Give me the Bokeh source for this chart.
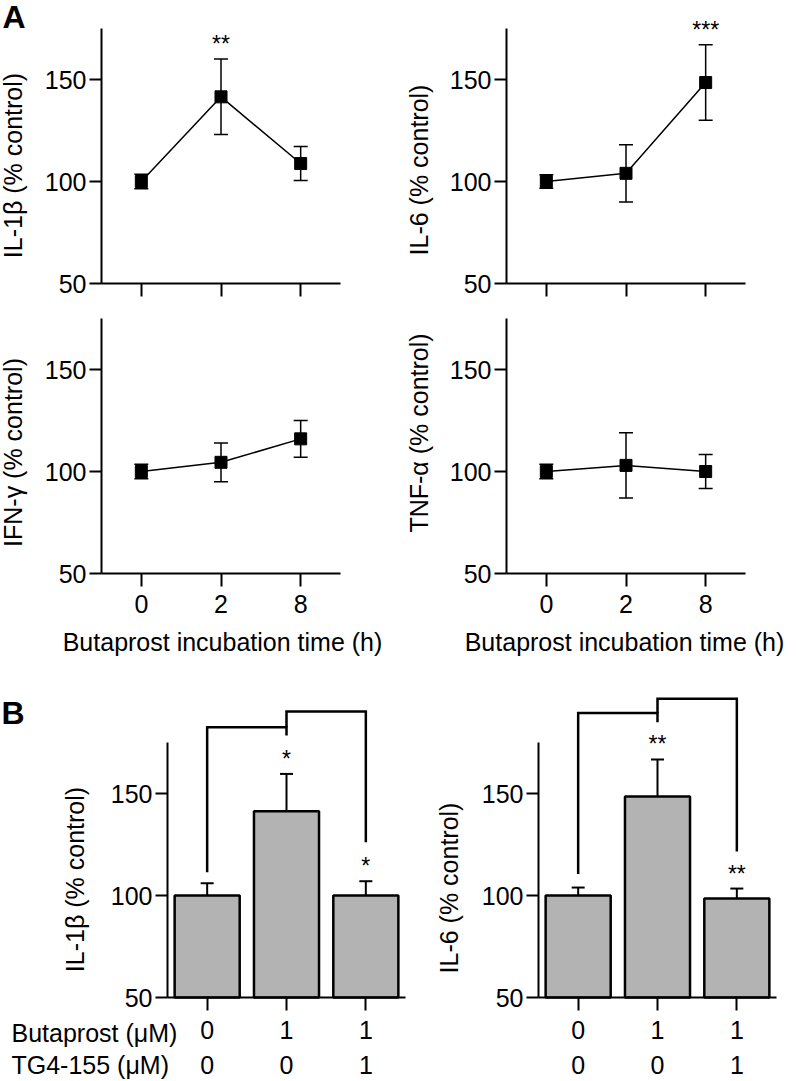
import math
from bokeh.plotting import figure
from bokeh.models import (Range1d, FixedTicker, Whisker, TeeHead, LinearAxis,
                          ColumnDataSource, Label, LabelSet, Grid)
from bokeh.layouts import column, row
from bokeh.embed import file_html
from bokeh.resources import INLINE
from bokeh.core.properties import value

# ---------------- data ----------------
TIME_H = ["0", "2", "8"]

IL1B_TIME_MEAN = [100.0, 141.5, 108.8]
IL1B_TIME_SEM = [3.5, 18.5, 8.3]
IL1B_TIME_SIG = ["", "**", ""]

IL6_TIME_MEAN = [100.0, 104.0, 148.5]
IL6_TIME_SEM = [3.3, 14.0, 18.5]
IL6_TIME_SIG = ["", "", "***"]

IFNG_TIME_MEAN = [100.0, 104.5, 116.0]
IFNG_TIME_SEM = [3.5, 9.5, 9.0]
IFNG_TIME_SIG = ["", "", ""]

TNFA_TIME_MEAN = [100.0, 103.0, 100.0]
TNFA_TIME_SEM = [3.5, 16.0, 8.3]
TNFA_TIME_SIG = ["", "", ""]

BUTAPROST_UM = [0, 1, 1]
TG4155_UM = [0, 0, 1]

IL1B_BAR_MEAN = [100.0, 141.3, 100.0]
IL1B_BAR_SEM = [6.0, 18.3, 7.0]
IL1B_BAR_SIG = ["", "*", "*"]
# (from group, to group, left-leg bottom, bracket level, right-leg bottom)
IL1B_BRACKETS = [(0, 1, 111.4, 182.5, 178.4), (1, 2, 182.5, 190.2, 126.1)]

IL6_BAR_MEAN = [100.0, 148.5, 98.5]
IL6_BAR_SEM = [3.9, 18.2, 4.9]
IL6_BAR_SIG = ["", "**", "**"]
IL6_BRACKETS = [(0, 1, 110.6, 189.5, 184.9), (1, 2, 189.5, 196.4, 121.6)]

Y_TICKS = [50, 100, 150]
Y_MIN = 50
Y_AXIS_MAX = 175

# ---------------- style / layout ----------------
FONT = "Liberation Sans"
FS = "25px"
STAR_FS = "23px"
STAR_PX = 15.0          # star anchor above the error-bar top (px)
BAR_FILL = "#b3b3b3"
PPU = 2.04              # px per y unit


class Panel:
    """A figure whose frame fills its whole canvas; axes are placed with fixed_location."""

    def __init__(self, left, top, right, bottom, axis_x, base_y, ppx, n_groups):
        self.left, self.top, self.right, self.bottom = left, top, right, bottom
        self.axis_x, self.base_y, self.ppx = axis_x, base_y, ppx
        p = figure(width=right - left, height=bottom - top,
                   x_range=Range1d(self.X(left), self.X(right)),
                   y_range=Range1d(self.Y(bottom), self.Y(top)),
                   x_axis_location=None, y_axis_location=None,
                   min_border=0, title=None,
                   output_backend="svg", toolbar_location=None, tools="")
        p.outline_line_color = None
        p.background_fill_color = "white"
        p.border_fill_color = "white"
        for g in p.select(type=Grid):
            g.visible = False
            g.grid_line_color = None
        self.fig = p

        ya = LinearAxis(fixed_location=-0.5, bounds=(Y_MIN, Y_AXIS_MAX),
                        ticker=FixedTicker(ticks=Y_TICKS))
        xa = LinearAxis(fixed_location=Y_MIN, bounds=(-0.5, n_groups - 0.5),
                        ticker=FixedTicker(ticks=list(range(n_groups))))
        for ax in (xa, ya):
            ax.axis_line_width = 2
            ax.axis_line_color = "black"
            ax.major_tick_line_width = 2
            ax.major_tick_line_color = "black"
            ax.major_tick_in = 0
            ax.minor_tick_line_color = None
            ax.major_label_text_font = FONT
            ax.major_label_text_font_size = FS
            ax.major_label_text_color = "black"
        ya.major_tick_out = 12
        ya.major_label_standoff = 3
        xa.major_tick_out = 13
        p.add_layout(ya, "left")
        p.add_layout(xa, "below")
        self.xaxis, self.yaxis = xa, ya

    def X(self, rx):
        return -0.5 + (rx - self.axis_x) / self.ppx

    def Y(self, ry):
        return Y_MIN + (self.base_y - ry) / PPU

    def label(self, text, rx, ry, angle=0.0, align="center", size=FS, style="normal"):
        self.fig.add_layout(Label(x=self.X(rx), y=self.Y(ry), text=text, angle=angle,
                                  text_font=FONT, text_font_size=size,
                                  text_font_style=style, text_align=align,
                                  text_baseline="middle", text_color="black"))

    def ylabel(self, text, rx, ry):
        self.label(text, rx, ry, angle=math.pi / 2)

    def stars(self, xs, upper, sig):
        src = ColumnDataSource(dict(x=xs, y=[u + STAR_PX / PPU for u in upper], t=sig))
        self.fig.text(x="x", y="y", text="t", source=src, text_font=value(FONT),
                      text_font_size=STAR_FS, text_align="center",
                      text_baseline="middle", text_color="black")


def line_panel(pn, mean, sem, sig, show_labels):
    p = pn.fig
    xs = list(range(len(TIME_H)))
    upper = [m + s for m, s in zip(mean, sem)]
    lower = [m - s for m, s in zip(mean, sem)]
    src = ColumnDataSource(dict(x=xs, mean=mean, upper=upper, lower=lower))
    p.add_layout(Whisker(source=src, base="x", upper="upper", lower="lower",
                         line_width=1.5, line_color="black",
                         upper_head=TeeHead(size=14, line_width=1.5, line_color="black"),
                         lower_head=TeeHead(size=14, line_width=1.5, line_color="black")))
    p.line(x="x", y="mean", source=src, line_width=1.5, line_color="black")
    p.scatter(x="x", y="mean", source=src, marker="square", size=12,
              fill_color="black", line_color="black")
    pn.stars(xs, upper, sig)
    if show_labels:
        pn.xaxis.major_label_overrides = {i: t for i, t in zip(xs, TIME_H)}
        pn.xaxis.major_label_standoff = 8
    else:
        pn.xaxis.major_label_text_color = None


def bar_panel(pn, mean, sem, sig, brackets):
    p = pn.fig
    xs = list(range(len(BUTAPROST_UM)))
    upper = [m + s for m, s in zip(mean, sem)]
    src = ColumnDataSource(dict(x=xs, mean=mean, upper=upper))
    p.vbar(x="x", top="mean", bottom=Y_MIN, width=0.82, source=src,
           fill_color=BAR_FILL, line_color="black", line_width=2.5)
    p.add_layout(Whisker(source=src, base="x", upper="upper", lower="mean",
                         line_width=2, line_color="black",
                         upper_head=TeeHead(size=13, line_width=2, line_color="black"),
                         lower_head=None))
    pn.stars(xs, upper, sig)
    bx = [[i, i, j, j] for i, j, _, _, _ in brackets]
    by = [[lb, lev, lev, rb] for _, _, lb, lev, rb in brackets]
    p.multi_line(xs=bx, ys=by, line_width=2.5, line_color="black", line_join="miter")
    pn.xaxis.major_label_overrides = {i: str(b) for i, b in zip(xs, BUTAPROST_UM)}
    pn.xaxis.major_label_standoff = 10
    # second row of group labels: TG4-155 concentration
    lsrc = ColumnDataSource(dict(x=xs, y=[pn.Y(1064.5)] * len(xs),
                                 t=[str(t) for t in TG4155_UM]))
    p.add_layout(LabelSet(x="x", y="y", text="t", source=lsrc, text_font=value(FONT),
                          text_font_size=FS, text_align="center",
                          text_baseline="middle", text_color="black"))


# ---------------- panel A (time course) ----------------
PPX_A = 239 / 3
a1 = Panel(0, 0, 400, 303, 101, 283, PPX_A, 3)
a2 = Panel(400, 0, 796, 303, 506, 283, PPX_A, 3)
a3 = Panel(0, 303, 400, 660, 101, 573, PPX_A, 3)
a4 = Panel(400, 303, 796, 660, 506, 573, PPX_A, 3)

line_panel(a1, IL1B_TIME_MEAN, IL1B_TIME_SEM, IL1B_TIME_SIG, False)
line_panel(a2, IL6_TIME_MEAN, IL6_TIME_SEM, IL6_TIME_SIG, False)
line_panel(a3, IFNG_TIME_MEAN, IFNG_TIME_SEM, IFNG_TIME_SIG, True)
line_panel(a4, TNFA_TIME_MEAN, TNFA_TIME_SEM, TNFA_TIME_SIG, True)

a1.ylabel("IL-1β (% control)", 12.5, 165)
a2.ylabel("IL-6 (% control)", 418, 169.5)
a3.ylabel("IFN-γ (% control)", 12.5, 452)
a4.ylabel("TNF-α (% control)", 418, 432.5)
a3.label("Butaprost incubation time (h)", 222, 641.5)
a4.label("Butaprost incubation time (h)", 624, 641.5)
a1.label("A", 2, 16.5, align="left", size="32px", style="bold")

# ---------------- panel B (bars) ----------------
PPX_B = 238 / 3
b1 = Panel(0, 660, 420, 1080, 167, 997, PPX_B, 3)
b2 = Panel(420, 660, 796, 1080, 538, 997, PPX_B, 3)

bar_panel(b1, IL1B_BAR_MEAN, IL1B_BAR_SEM, IL1B_BAR_SIG, IL1B_BRACKETS)
bar_panel(b2, IL6_BAR_MEAN, IL6_BAR_SEM, IL6_BAR_SIG, IL6_BRACKETS)

b1.ylabel("IL-1β (% control)", 74.5, 879)
b2.ylabel("IL-6 (% control)", 448.5, 887.5)
b1.label("B", 1, 712.5, align="left", size="32px", style="bold")
b1.label("Butaprost (μM)", 11, 1032.7, align="left")
b1.label("TG4-155 (μM)", 11, 1064.5, align="left")

layout = column(row(a1.fig, a2.fig), row(a3.fig, a4.fig), row(b1.fig, b2.fig))

open("out.html", "w").write(file_html(layout, INLINE))
